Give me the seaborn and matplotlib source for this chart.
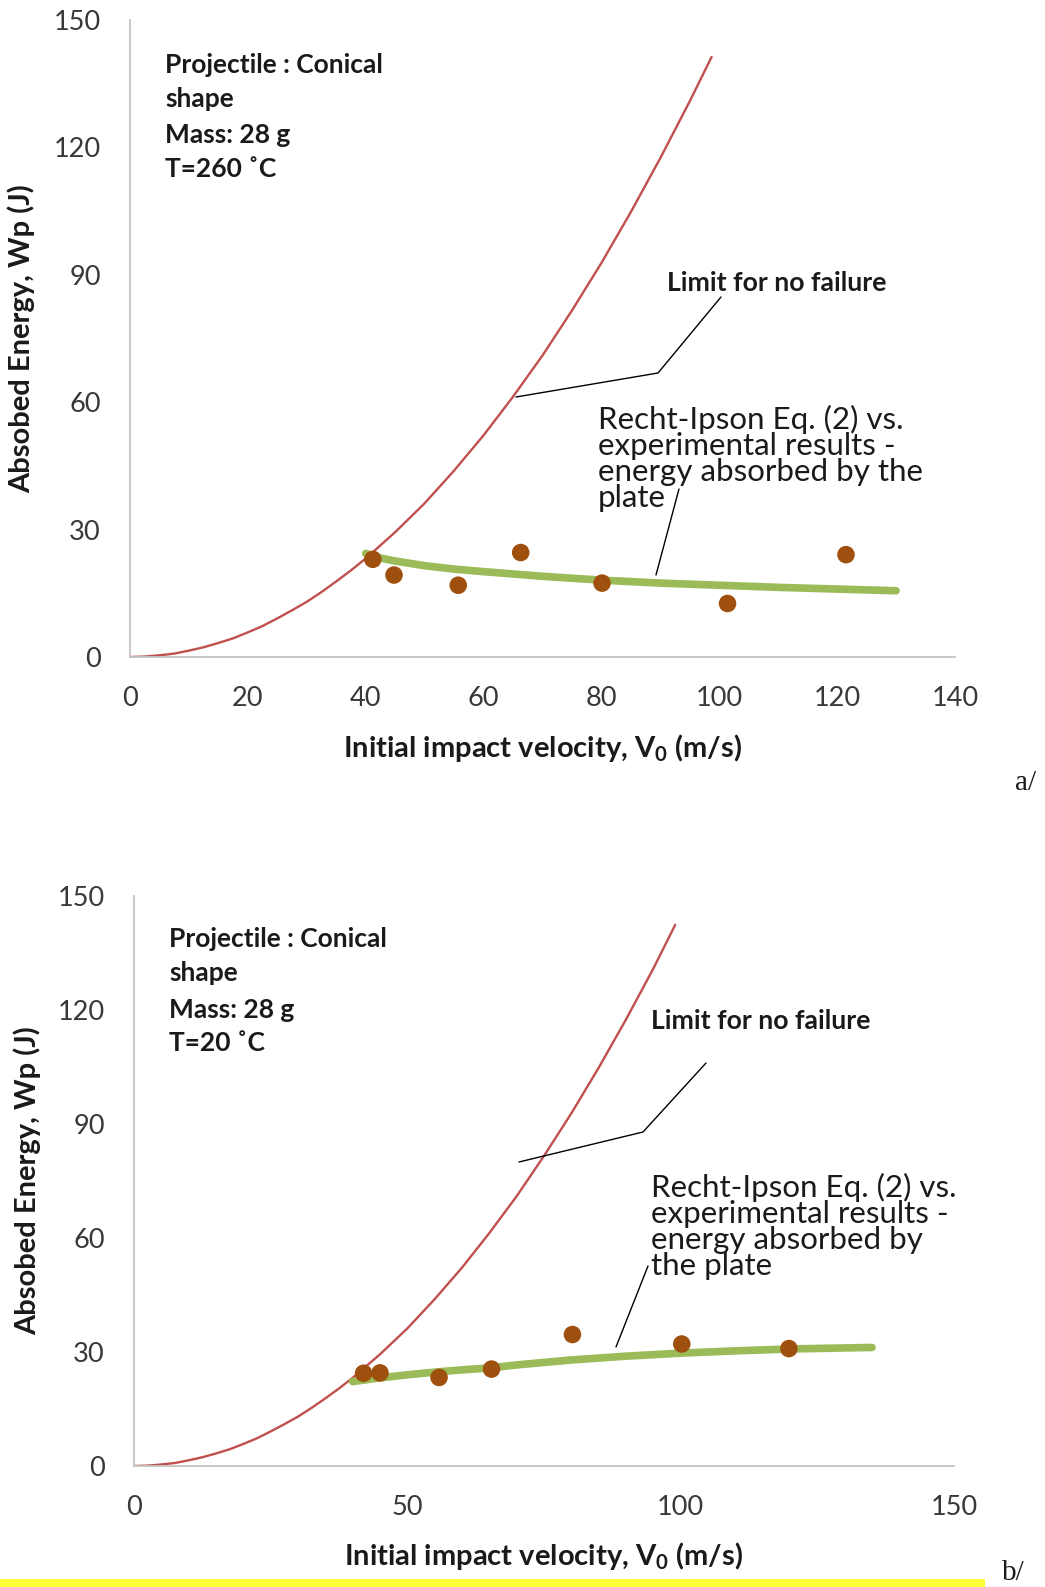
import matplotlib
matplotlib.use("Agg")
import matplotlib.pyplot as plt
import seaborn as sns

# ---------------- data ----------------
# panel a  (T = 260 C)
limit_v_a = [0, 2.5, 5, 7.5, 10, 12.5, 15, 17.5, 20, 22.5, 25, 27.5, 30, 32.5, 35, 37.5, 40, 45, 50, 55,
             60, 65, 70, 75, 80, 85, 90, 95, 98.7]
limit_e_a = [0, 0.1, 0.4, 0.8, 1.5, 2.3, 3.3, 4.4, 5.8, 7.3, 9.1, 11.0, 13.0, 15.3, 17.8, 20.4, 23.2, 29.4,
             36.2, 43.9, 52.2, 61.3, 71.0, 81.6, 92.8, 104.8, 117.5, 130.9, 141.3]
model_v_a = [40, 42.5, 45, 50, 55, 60, 70, 80, 90, 100, 110, 120, 130]
model_e_a = [24.4, 23.3, 22.6, 21.5, 20.7, 20.1, 19.0, 18.1, 17.4, 16.9, 16.4, 16.0, 15.6]
exp_v_a = [41.2, 44.8, 55.7, 66.3, 80.1, 101.4, 121.5]
exp_e_a = [23.0, 19.3, 16.9, 24.6, 17.4, 12.6, 24.1]

# panel b  (T = 20 C)
limit_v_b = [0, 2.5, 5, 7.5, 10, 12.5, 15, 17.5, 20, 22.5, 25, 27.5, 30, 32.5, 35, 37.5, 40, 45, 50, 55,
             60, 65, 70, 75, 80, 85, 90, 95, 99.0]
limit_e_b = [0, 0.1, 0.4, 0.8, 1.5, 2.3, 3.3, 4.4, 5.8, 7.3, 9.1, 11.0, 13.0, 15.3, 17.8, 20.4, 23.2, 29.4,
             36.2, 43.9, 52.2, 61.3, 71.0, 81.6, 92.8, 104.8, 117.5, 130.9, 142.4]
model_v_b = [40, 45, 50, 55, 60, 65, 70, 80, 90, 100, 110, 120, 135]
model_e_b = [22.2, 23.2, 24.0, 24.7, 25.3, 25.8, 26.6, 27.9, 28.9, 29.7, 30.3, 30.8, 31.2]
exp_v_b = [42.0, 45.0, 55.8, 65.4, 80.2, 100.2, 119.8]
exp_e_b = [24.4, 24.5, 23.3, 25.5, 34.6, 32.1, 30.9]

yticks = [0, 30, 60, 90, 120, 150]
xticks_a = [0, 20, 40, 60, 80, 100, 120, 140]
xticks_b = [0, 50, 100, 150]

info_a = ["Projectile : Conical", "shape", "Mass: 28 g", "T=260 \u02daC"]
info_b = ["Projectile : Conical", "shape", "Mass: 28 g", "T=20 \u02daC"]
recht_a = ["Recht-Ipson Eq. (2) vs.", "experimental results -", "energy absorbed by the", "plate"]
recht_b = ["Recht-Ipson Eq. (2) vs.", "experimental results -", "energy absorbed by", "the plate"]
limit_label = "Limit for no failure"
ylabel = "Absobed Energy, Wp (J)"
xlabel = r"Initial impact velocity, V$_\mathbf{0}$ (m/s)"

# ---------------- style ----------------
sns.set_theme(style="white")
plt.rcParams["font.family"] = ["Lato", "DejaVu Sans"]
plt.rcParams["mathtext.fontset"] = "custom"
plt.rcParams["mathtext.rm"] = "Lato"
plt.rcParams["mathtext.bf"] = "Lato:bold"

RED = "#C0504D"
GREEN = "#9BBB59"
DOT = "#A0500E"
SPINE = "#C4C4C4"
TXT = "#1a1a1a"

W, H = 1045, 1587
fig = plt.figure(figsize=(W / 100, H / 100), dpi=100)


def fx(x):
    return x / W


def fy(y):
    return 1 - y / H


def make_panel(rect, lv, le, mv, me, ev, ee, xticks, xmax, info, info_x, info_ys,
               lim_xy, lim_path, recht, recht_x, recht_base, recht_path,
               xl_y, yl_x, tag, tag_xy):
    ax = fig.add_axes(rect)
    sns.lineplot(x=lv, y=le, ax=ax, color=RED, lw=1.7, sort=False, estimator=None)
    sns.lineplot(x=mv, y=me, ax=ax, color=GREEN, lw=5.5, sort=False, estimator=None,
                 solid_capstyle="round")
    sns.scatterplot(x=ev, y=ee, ax=ax, color=DOT, s=160, edgecolor="none", zorder=3)
    ax.set_xlim(0, xmax)
    ax.set_ylim(0, 150)
    ax.set_xticks(xticks)
    ax.set_yticks(yticks)
    ax.tick_params(length=0, pad=21, labelsize=19.5, labelcolor="#383838")
    for s in ["top", "right"]:
        ax.spines[s].set_visible(False)
    for s in ["left", "bottom"]:
        ax.spines[s].set_color(SPINE)
        ax.spines[s].set_linewidth(1.3)
    ax.grid(False)
    ax.set_xlabel(xlabel, fontsize=21, fontweight="bold", color=TXT)
    ax.set_ylabel(ylabel, fontsize=21, fontweight="bold", color=TXT)
    ax.xaxis.set_label_coords(0.5, xl_y)
    ax.yaxis.set_label_coords(yl_x, 0.5)

    for t, yy in zip(info, info_ys):
        fig.text(fx(info_x), fy(yy), t, fontsize=19, fontweight="bold",
                 color=TXT, ha="left", va="center")
    fig.text(fx(lim_xy[0]), fy(lim_xy[1]), limit_label, fontsize=19.2,
             fontweight="bold", color=TXT, ha="left", va="center")
    fig.add_artist(plt.Line2D([fx(p[0]) for p in lim_path], [fy(p[1]) for p in lim_path],
                              color="black", lw=1.0, transform=fig.transFigure))
    # multi-line note; anchored at the baseline of its last line
    fig.text(fx(recht_x), fy(recht_base), "\n".join(recht), fontsize=22.5,
             color=TXT, ha="left", va="baseline", linespacing=0.92)
    fig.add_artist(plt.Line2D([fx(p[0]) for p in recht_path], [fy(p[1]) for p in recht_path],
                              color="black", lw=1.0, transform=fig.transFigure))
    fig.text(fx(tag_xy[0]), fy(tag_xy[1]), tag, fontsize=21,
             family=["Liberation Serif", "DejaVu Serif"], color=TXT,
             ha="center", va="center")
    return ax


# panel a
make_panel([fx(130), fy(657), (955 - 130) / W, (657 - 20) / H],
           limit_v_a, limit_e_a, model_v_a, model_e_a, exp_v_a, exp_e_a,
           xticks_a, 140, info_a, 165, [65, 99, 135, 169],
           (667, 283), [(516, 397), (658, 373), (721, 297)],
           recht_a, 598, 507, [(679, 489), (656, 575)],
           -0.118, -0.115, "a/", (1026, 783))

# panel b
make_panel([fx(134), fy(1466), (954 - 134) / W, (1466 - 896) / H],
           limit_v_b, limit_e_b, model_v_b, model_e_b, exp_v_b, exp_e_b,
           xticks_b, 150, info_b, 169, [939, 973, 1010, 1043],
           (651, 1021), [(519, 1162), (643, 1132), (706, 1063)],
           recht_b, 651, 1275, [(648, 1266), (616, 1347)],
           -0.13, -0.113, "b/", (1013, 1573))

# yellow highlight strip at bottom
fig.add_artist(plt.Rectangle((0, 0), fx(985), 8 / H, transform=fig.transFigure,
                             color="#FFFF3A", lw=0))

fig.savefig("out.png", dpi=100)
